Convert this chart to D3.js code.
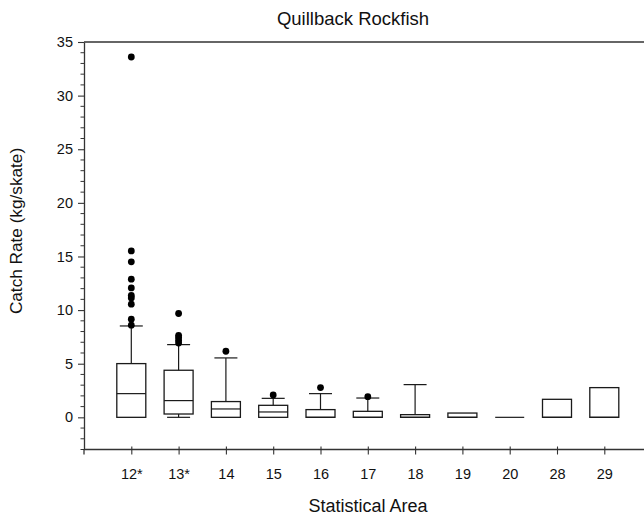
<!DOCTYPE html>
<html>
<head>
<meta charset="utf-8">
<script src="https://cdn.jsdelivr.net/npm/d3@7"></script>
<style>
  html, body { margin: 0; padding: 0; background: #fff; }
  svg { display: block; font-family: "Liberation Sans", Arial, sans-serif; }
</style>
</head>
<body>
<svg id="chart" width="644" height="521"></svg>
<script>
// Catch rate of quillback rockfish by statistical area (box plots)
const categories = ["12*", "13*", "14", "15", "16", "17", "18", "19", "20", "28", "29"];
const q1        = [0,    0.31, 0,    0,    0,    0,    0,    0,    0, 0,    0];
const medians   = [2.21, 1.56, 0.78, 0.5,  0,    0,    0,    0,    0, 0,    0];
const q3        = [5.01, 4.39, 1.47, 1.12, 0.72, 0.56, 0.25, 0.4,  0, 1.68, 2.77];
const whiskLow  = [0,    0,    0,    0,    0,    0,    0,    0,    0, 0,    0];
const whiskHigh = [8.52, 6.78, 5.54, 1.77, 2.21, 1.8,  3.05, 0.4,  0, 1.68, 2.77];
const outliers  = [
  [33.6, 15.52, 14.5, 12.88, 12.07, 11.36, 11.13, 10.55, 9.15, 8.59],
  [9.68, 7.65, 7.44, 7.19, 6.93],
  [6.16],
  [2.08],
  [2.77],
  [1.93],
  [], [], [], [], []
];
const yTicks = [0, 5, 10, 15, 20, 25, 30, 35];

const svg = d3.select("#chart");
const plotLeft = 84, plotTop = 42, plotBottom = 449.5;
const fontFamily = "Liberation Sans, Arial, sans-serif";

const x = d3.scaleLinear().domain([0, 12]).range([plotLeft, plotLeft + 12 * 47.3]);
const y = d3.scaleLinear().domain([-3, 35]).range([plotBottom, plotTop]);

const ink = "#1a1a1a";
const axisInk = "#333";

// top frame line running to the right edge
svg.append("line").attr("x1", plotLeft).attr("x2", 644).attr("y1", plotTop).attr("y2", plotTop)
  .attr("stroke", axisInk).attr("stroke-width", 1.3);

// y axis with major and minor ticks
const yAxis = d3.axisLeft(y).tickValues(yTicks).tickSize(6).tickSizeOuter(0).tickPadding(5);
const gy = svg.append("g").attr("transform", `translate(${plotLeft},0)`).call(yAxis);
gy.select(".domain").attr("stroke", axisInk).attr("stroke-width", 1.3);
gy.selectAll(".tick line").attr("stroke", axisInk).attr("stroke-width", 1.1);
gy.selectAll(".tick text").attr("font-size", 14.5).attr("fill", "#111")
  .attr("font-family", fontFamily);
const minor = d3.range(-3, 36).filter(v => v % 5 !== 0);
svg.append("g").selectAll("line").data(minor).join("line")
  .attr("x1", plotLeft - 3.5).attr("x2", plotLeft).attr("y1", d => y(d)).attr("y2", d => y(d))
  .attr("stroke", axisInk).attr("stroke-width", 1);
svg.append("line").attr("x1", plotLeft).attr("x2", plotLeft).attr("y1", plotBottom).attr("y2", plotBottom + 5)
  .attr("stroke", axisInk).attr("stroke-width", 1.3);

// x axis
const xAxis = d3.axisBottom(x).tickValues(d3.range(1, categories.length + 1))
  .tickFormat(d => categories[d - 1]).tickSize(5).tickSizeOuter(0).tickPadding(14);
const gx = svg.append("g").attr("transform", `translate(0,${plotBottom})`).call(xAxis);
gx.select(".domain").attr("stroke", axisInk).attr("stroke-width", 1.3)
  .attr("d", `M${plotLeft},0H644`);
gx.selectAll(".tick line").attr("stroke", axisInk).attr("stroke-width", 1.1).attr("y1", -3);
gx.selectAll(".tick text").attr("font-size", 14.5).attr("fill", "#111")
  .attr("font-family", fontFamily);

// boxes
const boxW = 29, capW = 23;
const g = svg.append("g");
categories.forEach((c, i) => {
  const cx = x(i + 1);
  // whiskers
  if (whiskHigh[i] > q3[i]) {
    g.append("line").attr("x1", cx).attr("x2", cx).attr("y1", y(q3[i])).attr("y2", y(whiskHigh[i]))
      .attr("stroke", ink).attr("stroke-width", 1.2);
    g.append("line").attr("x1", cx - capW / 2).attr("x2", cx + capW / 2)
      .attr("y1", y(whiskHigh[i])).attr("y2", y(whiskHigh[i])).attr("stroke", ink).attr("stroke-width", 1.2);
  }
  if (whiskLow[i] < q1[i]) {
    g.append("line").attr("x1", cx).attr("x2", cx).attr("y1", y(q1[i])).attr("y2", y(whiskLow[i]))
      .attr("stroke", ink).attr("stroke-width", 1.2);
    g.append("line").attr("x1", cx - capW / 2).attr("x2", cx + capW / 2)
      .attr("y1", y(whiskLow[i])).attr("y2", y(whiskLow[i])).attr("stroke", ink).attr("stroke-width", 1.2);
  }
  // box
  g.append("rect").attr("x", cx - boxW / 2).attr("width", boxW)
    .attr("y", y(q3[i])).attr("height", Math.max(0, y(q1[i]) - y(q3[i])))
    .attr("fill", "none").attr("stroke", ink).attr("stroke-width", 1.3);
  // median
  g.append("line").attr("x1", cx - boxW / 2).attr("x2", cx + boxW / 2)
    .attr("y1", y(medians[i])).attr("y2", y(medians[i])).attr("stroke", ink).attr("stroke-width", 1.2);
  // outliers
  g.selectAll(null).data(outliers[i]).join("circle")
    .attr("cx", cx).attr("cy", d => y(d)).attr("r", 3.4).attr("fill", "#000");
});

// titles
svg.append("text").attr("x", 353).attr("y", 25).attr("text-anchor", "middle")
  .attr("font-family", fontFamily).attr("font-size", 18.5).attr("fill", "#111").text("Quillback Rockfish");
svg.append("text").attr("x", 368).attr("y", 512).attr("text-anchor", "middle")
  .attr("font-family", fontFamily).attr("font-size", 18).attr("fill", "#111").text("Statistical Area");
svg.append("text").attr("transform", "translate(22,231) rotate(-90)").attr("text-anchor", "middle")
  .attr("font-family", fontFamily).attr("font-size", 17.2).attr("fill", "#111").text("Catch Rate (kg/skate)");
</script>
</body>
</html>
